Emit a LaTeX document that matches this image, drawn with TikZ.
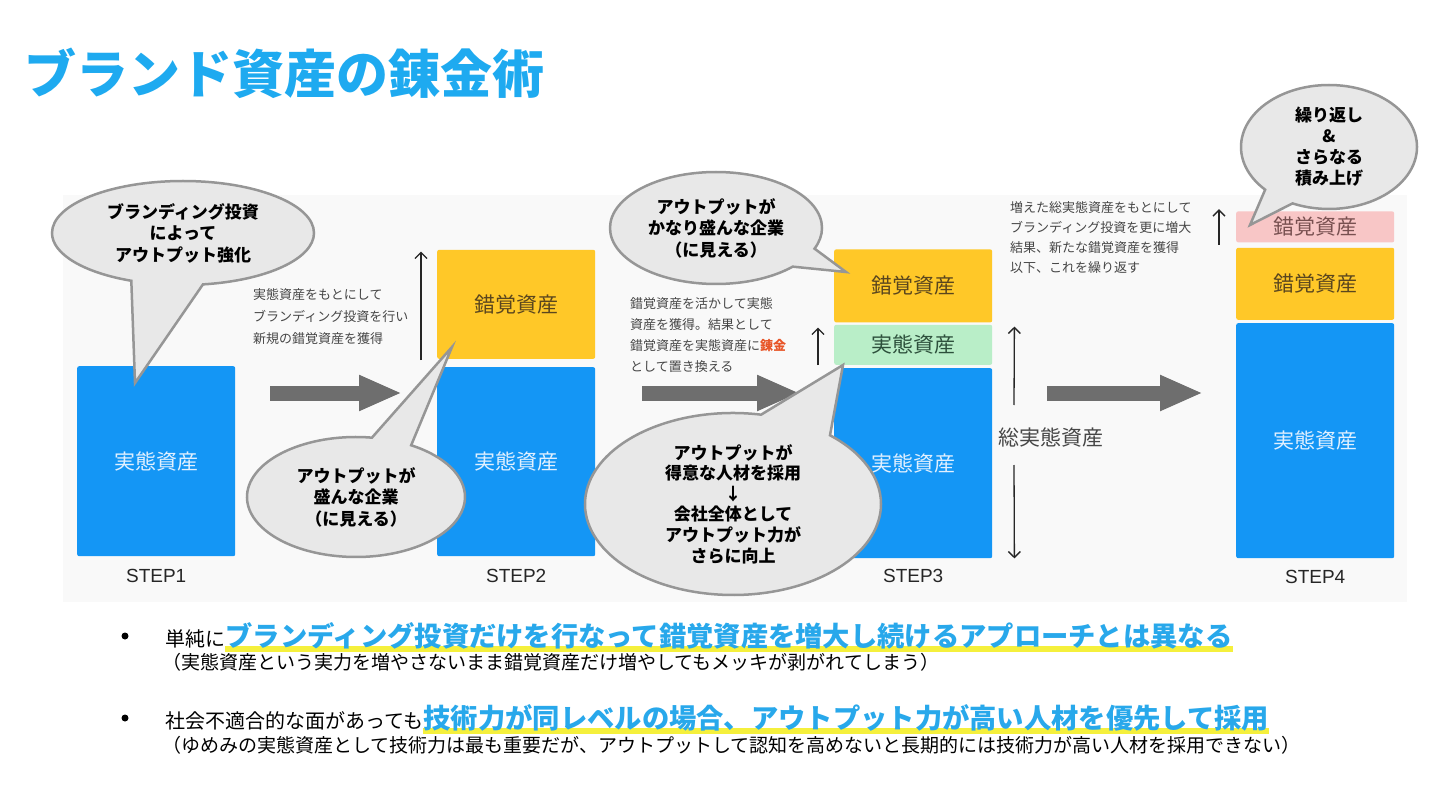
\documentclass[tikz,border=0pt]{standalone}
\usepackage{fontspec}
\setmainfont{Noto Sans CJK JP}
\newfontfamily\latinsans{Liberation Sans}
\usepackage{xcolor}
\usepackage{tikz}
\usetikzlibrary{arrows.meta, positioning, shapes.callouts, calc, backgrounds}
\definecolor{titleblue}{RGB}{30, 170, 240}
\definecolor{keyblue}{RGB}{40, 168, 235}
\definecolor{assetblue}{RGB}{20, 150, 245}
\definecolor{assetyellow}{RGB}{255, 200, 40}
\definecolor{assetgreen}{RGB}{185, 238, 200}
\definecolor{assetpink}{RGB}{248, 198, 198}
\definecolor{realtext}{RGB}{225, 240, 255}
\definecolor{illusiontext}{RGB}{90, 70, 30}
\definecolor{gainedtext}{RGB}{45, 80, 60}
\definecolor{extratext}{RGB}{120, 80, 80}
\definecolor{bubblefill}{RGB}{232, 232, 232}
\definecolor{bubbleline}{RGB}{150, 150, 150}
\definecolor{arrowgray}{RGB}{110, 110, 110}
\definecolor{notegray}{RGB}{70, 70, 70}
\definecolor{alchemyred}{RGB}{232, 85, 40}
\definecolor{panelgray}{RGB}{249, 249, 249}
\definecolor{hiliteyellow}{RGB}{245, 240, 60}

\begin{document}
\begin{tikzpicture}[
  x=1pt, y=-1pt,
  every node/.style={inner sep=0pt},
  asset/.style={rounded corners=2pt, minimum width=158pt, anchor=north west, font=\fontsize{21}{24}\selectfont},
  real/.style={asset, fill=assetblue, text=realtext},
  illusion/.style={asset, fill=assetyellow, text=illusiontext},
  gained/.style={asset, fill=assetgreen, text=gainedtext},
  extra/.style={asset, fill=assetpink, text=extratext},
  steplabel/.style={font=\latinsans\fontsize{19}{22}\selectfont, text=black!85},
  bubble/.style={ellipse callout, draw=bubbleline, line width=2.5pt, fill=bubblefill, align=center, font=\bfseries\fontsize{17}{21.5}\selectfont, callout pointer arc=22},
  note/.style={anchor=west, align=left, text=notegray},
  flow/.style={-{Triangle[length=43pt, width=33pt]}, line width=15pt, draw=arrowgray},
  rise/.style={-{Straight Barb[length=6pt, width=12pt]}, line width=1.3pt, draw=black!85},
  dot/.style={circle, fill=black, minimum size=7pt},
  lead/.style={anchor=base west, font=\fontsize{20}{24}\selectfont},
  key/.style={anchor=base west, text=keyblue, font=\bfseries\fontsize{27.3}{30}\selectfont},
  aside/.style={anchor=base west, font=\fontsize{19}{22}\selectfont}
]
  \begin{scope}[on background layer]
    \fill[white] (0,0) rectangle (1440,810);
  \end{scope}
  \useasboundingbox (0,0) rectangle (1440,810);

  % Titolo e pannello
  \node[anchor=base west, text=titleblue, font=\bfseries\fontsize{52}{56}\selectfont] (title) at (24,94) {ブランド資産の錬金術};
  \fill[panelgray] (63,195) rectangle (1407,602);

  % STEP1
  \node[real, minimum height=190pt] (s1real) at (77,366) {実態資産};
  \node[steplabel, below=13pt of s1real] (s1lab) {STEP1};

  % STEP2
  \node[real, minimum height=189pt] (s2real) at (437,367) {実態資産};
  \node[illusion, minimum height=109pt, above=8pt of s2real] (s2ill) {錯覚資産};
  \node[steplabel, below=13pt of s2real] (s2lab) {STEP2};

  % STEP3
  \node[real, minimum height=190pt] (s3real) at (834,368) {実態資産};
  \node[gained, minimum height=40pt, above=3pt of s3real] (s3gain) {実態資産};
  \node[illusion, minimum height=73pt, above=2pt of s3gain] (s3ill) {錯覚資産};
  \node[steplabel, below=11pt of s3real] (s3lab) {STEP3};

  % STEP4
  \node[real, minimum height=235pt] (s4real) at (1236,323) {実態資産};
  \node[illusion, minimum height=72pt, above=3pt of s4real] (s4ill) {錯覚資産};
  \node[extra, minimum height=31pt, above=5pt of s4ill] (s4extra) {錯覚資産};
  \node[steplabel, below=12pt of s4real] (s4lab) {STEP4};

  % Frecce
  \coordinate (lane) at (0,393);
  \draw[flow] ($(s1real.east |- lane)+(35,0)$) -- ($(s2real.west |- lane)+(-35,0)$);
  \draw[flow] ($(s2real.east |- lane)+(47,0)$) -- ($(s3real.west |- lane)+(-34,0)$);
  \draw[flow] ($(s3real.east |- lane)+(55,0)$) -- ($(s4real.west |- lane)+(-33,0)$);

  \draw[rise] ($(s2ill.south west)+(-16,1)$) -- ($(s2ill.north west)+(-16,2)$);
  \draw[rise] ($(s3gain.south west)+(-16,0)$) -- ($(s3gain.north west)+(-16,3)$);
  \draw[rise] ($(s4extra.south west)+(-17,2)$) -- ($(s4extra.north west)+(-17,-2)$);

  \node[anchor=west, text=notegray, font=\fontsize{21}{24}\selectfont] (total) at (998,437) {総実態資産};
  \draw[rise] ($(total.west)+(16,-32)$) -- ($(s3gain.north east)+(22,2)$);
  \draw[rise] ($(total.west)+(16,28)$) -- ($(s3real.south east)+(22,0)$);

  % Note
  \node[note, font=\fontsize{13}{22}\selectfont] (note1) at (253,317) {実態資産をもとにして\\ブランディング投資を行い\\新規の錯覚資産を獲得};
  \node[note, font=\fontsize{13}{21.3}\selectfont] (note2) at (630,335) {錯覚資産を活かして実態\\資産を獲得。結果として\\錯覚資産を実態資産に\textcolor{alchemyred}{\bfseries 錬金}\\として置き換える};
  \node[note, font=\fontsize{13}{20}\selectfont] (note3) at (1010,238) {増えた総実態資産をもとにして\\ブランディング投資を更に増大\\結果、新たな錯覚資産を獲得\\以下、これを繰り返す};

  % Fumetti
  \node[bubble, minimum width=262pt, minimum height=104pt, callout absolute pointer={(135,383)}, callout pointer arc=32] (b1) at (183,233) {ブランディング投資\\によって\\アウトプット強化};
  \node[bubble, minimum width=218pt, minimum height=120pt, callout absolute pointer={(452,347)}] (b2) at (356,497) {アウトプットが\\盛んな企業\\（に見える）};
  \node[bubble, minimum width=212pt, minimum height=112pt, callout absolute pointer={(846,272)}] (b3) at (716,228) {アウトプットが\\かなり盛んな企業\\（に見える）};
  \node[bubble, minimum width=296pt, minimum height=182pt, callout absolute pointer={(843,365)}, callout pointer arc=30, font=\bfseries\fontsize{17}{20.6}\selectfont] (b4) at (733,504) {アウトプットが\\得意な人材を採用\\↓\\会社全体として\\アウトプット力が\\さらに向上};
  \node[bubble, minimum width=176pt, minimum height=124pt, callout absolute pointer={(1250,225)}, font=\bfseries\fontsize{17}{21}\selectfont] (b5) at (1329,147) {繰り返し\\\&\\さらなる\\積み上げ};

  % Punti
  \node[dot] (dot1) at (125,636) {};
  \node[lead] (lead1) at (165,646) {単純に};
  \node[key] (key1) at (lead1.base east) {ブランディング投資だけを行なって錯覚資産を増大し続けるアプローチとは異なる};
  \node[aside] (aside1) at (162,669) {（実態資産という実力を増やさないまま錯覚資産だけ増やしてもメッキが剥がれてしまう）};

  \node[dot] (dot2) at (125,718) {};
  \node[lead] (lead2) at (165,728) {社会不適合的な面があっても};
  \node[key] (key2) at (lead2.base east) {技術力が同レベルの場合、アウトプット力が高い人材を優先して採用};
  \node[aside] (aside2) at (162,752) {（ゆめみの実態資産として技術力は最も重要だが、アウトプットして認知を高めないと長期的には技術力が高い人材を採用できない）};

  \begin{scope}[on background layer]
    \fill[hiliteyellow] (key1.base west) rectangle ($(key1.base east)+(0,6)$);
    \fill[hiliteyellow] (key2.base west) rectangle ($(key2.base east)+(0,6)$);
  \end{scope}
\end{tikzpicture}
\end{document}
